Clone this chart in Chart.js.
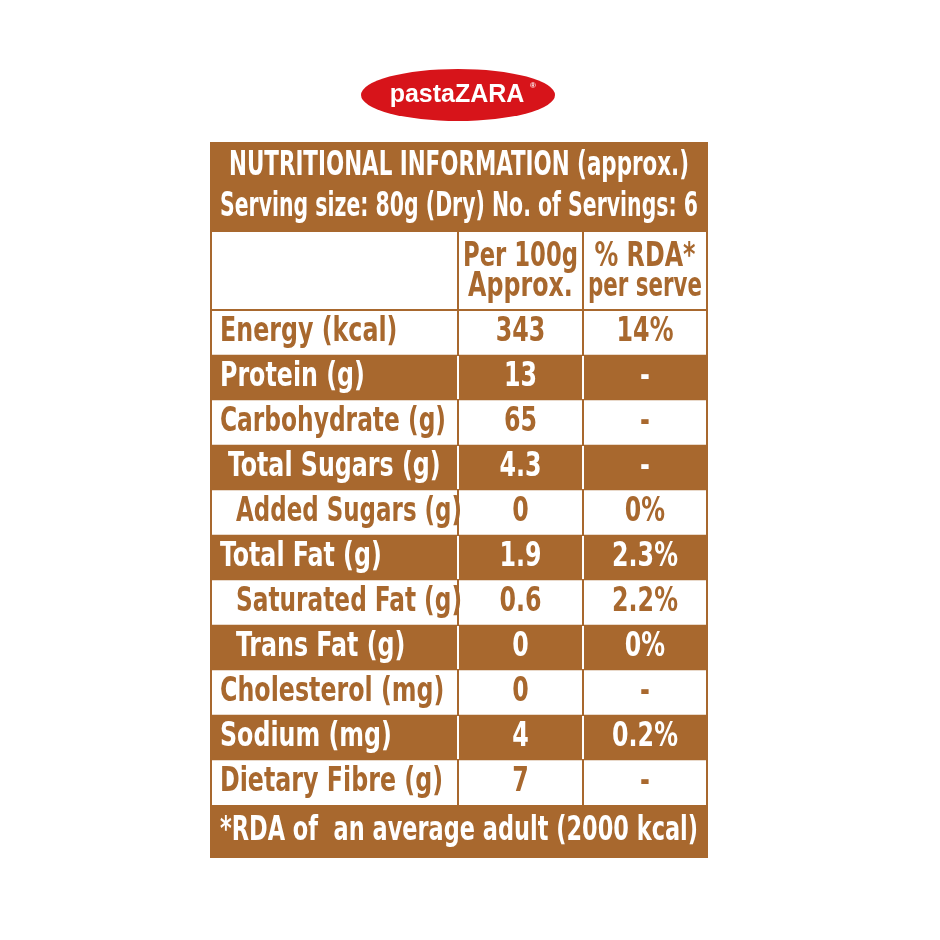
<!DOCTYPE html>
<html>
<head>
<meta charset="utf-8">
<script src="https://cdn.jsdelivr.net/npm/chart.js@4.4.1/dist/chart.umd.min.js"></script>
<style>
  html, body { margin: 0; padding: 0; background: #fff; }
  canvas { display: block; }
</style>
</head>
<body>
<canvas id="table" width="940" height="940"></canvas>
<script>
// Table data
const nutrients = ['Energy (kcal)', 'Protein (g)', 'Carbohydrate (g)', ' Total Sugars (g)', '  Added Sugars (g)',
    'Total Fat (g)', '  Saturated Fat (g)', '  Trans Fat (g)', 'Cholesterol (mg)', 'Sodium (mg)', 'Dietary Fibre (g)'];
const per100g = ['343', '13', '65', '4.3', '0', '1.9', '0.6', '0', '0', '4', '7'];
const rdaPerServe = ['14%', '-', '-', '-', '0%', '2.3%', '2.2%', '0%', '-', '0.2%', '-'];
const shadedRows = [false, true, false, true, false, true, false, true, false, true, false];
const columnEdges = [0, 247, 372, 496];
const titleLines = ['NUTRITIONAL INFORMATION (approx.)', 'Serving size: 80g (Dry) No. of Servings: 6'];
const colHeaders = [['Per 100g', 'Approx.'], ['% RDA*', 'per serve']];
const footnote = '*RDA of  an average adult (2000 kcal)';

const BROWN = '#a8682e';
const FONT = 'bold 33px "DejaVu Sans Condensed", sans-serif';
const SQUEEZE = 0.8;

function fitText(ctx, text, x, y, maxW) {
    const w = ctx.measureText(text).width;
    let s = SQUEEZE;
    if (w * s > maxW) s = maxW / w;
    ctx.save();
    ctx.translate(x, y);
    ctx.scale(s, 1);
    ctx.fillText(text, 0, 0);
    ctx.restore();
}

const tablePlugin = {
    id: 'tablePlugin',
    afterDatasetsDraw(chart) {
        const ctx = chart.ctx;
        const xs = chart.scales.x, ys = chart.scales.y;
        const left = xs.getPixelForValue(0), right = xs.getPixelForValue(496);
        const half = (ys.getPixelForValue(1) - ys.getPixelForValue(0)) / 2;
        const rowsTop = ys.getPixelForValue(0) - half;
        const rowsBottom = ys.getPixelForValue(nutrients.length - 1) + half;
        const cx = columnEdges.map(v => xs.getPixelForValue(v));
        const titleTop = 143, headTop = 232, footBottom = 857;

        ctx.save();
        // title and footer blocks
        ctx.fillStyle = BROWN;
        ctx.fillRect(left, titleTop, right - left, headTop - titleTop);
        ctx.fillRect(left, rowsBottom, right - left, footBottom - rowsBottom);

        // grid lines
        ctx.strokeStyle = BROWN;
        ctx.lineWidth = 2;
        ctx.strokeRect(left, titleTop, right - left, footBottom - titleTop);
        ctx.beginPath();
        ctx.moveTo(left, rowsTop); ctx.lineTo(right, rowsTop);
        for (let c = 1; c <= 2; c++) {
            ctx.moveTo(cx[c], headTop); ctx.lineTo(cx[c], rowsBottom);
        }
        ctx.stroke();
        // white lines inside shaded rows
        nutrients.forEach((n, i) => {
            if (!shadedRows[i]) return;
            const y = ys.getPixelForValue(i);
            ctx.strokeStyle = '#ffffff';
            ctx.beginPath();
            for (let c = 1; c <= 2; c++) {
                ctx.moveTo(cx[c], y - half + 1); ctx.lineTo(cx[c], y + half - 1);
            }
            ctx.stroke();
        });

        ctx.font = FONT;
        ctx.textBaseline = 'middle';
        ctx.textAlign = 'center';

        // title and footnote
        ctx.fillStyle = '#ffffff';
        fitText(ctx, titleLines[0], (left + right) / 2, 166, 460);
        fitText(ctx, titleLines[1], (left + right) / 2, 207, 478);
        fitText(ctx, footnote, (left + right) / 2, rowsBottom + 26, 478);

        // column headers
        ctx.fillStyle = BROWN;
        colHeaders.forEach((lines, c) => {
            const mid = (cx[c + 1] + cx[c + 2]) / 2;
            fitText(ctx, lines[0], mid, 257, cx[c + 2] - cx[c + 1] - 10);
            fitText(ctx, lines[1], mid, 287, cx[c + 2] - cx[c + 1] - 10);
        });

        // rows
        nutrients.forEach((n, i) => {
            const y = ys.getPixelForValue(i);
            ctx.fillStyle = shadedRows[i] ? '#ffffff' : BROWN;
            ctx.textAlign = 'left';
            const indent = n.length - n.trimStart().length;
            fitText(ctx, n.trim(), cx[0] + 9 + indent * 8, y, 226);
            ctx.textAlign = 'center';
            fitText(ctx, per100g[i], (cx[1] + cx[2]) / 2, y, 110);
            fitText(ctx, rdaPerServe[i], (cx[2] + cx[3]) / 2, y, 110);
        });

        // logo
        ctx.fillStyle = '#d7141a';
        ctx.beginPath();
        ctx.ellipse(458, 95, 97, 26, 0, 0, Math.PI * 2);
        ctx.fill();
        ctx.fillStyle = '#ffffff';
        ctx.textAlign = 'center';
        ctx.font = 'bold 25px "Liberation Sans", Arial, sans-serif';
        ctx.fillText('pastaZARA', 457, 95);
        ctx.font = 'bold 8px "Liberation Sans", sans-serif';
        ctx.fillText('®', 533, 86);
        ctx.restore();
    }
};

new Chart(document.getElementById('table'), {
    type: 'bar',
    data: {
        labels: nutrients,
        datasets: [{
            data: shadedRows.map(s => s ? [0, 496] : null),
            backgroundColor: BROWN,
            borderWidth: 0,
            barPercentage: 1,
            categoryPercentage: 1
        }]
    },
    options: {
        indexAxis: 'y',
        responsive: false,
        animation: false,
        layout: { padding: { left: 211, right: 233, top: 310, bottom: 135 } },
        plugins: { legend: { display: false }, tooltip: { enabled: false } },
        scales: {
            x: { type: 'linear', min: 0, max: 496, display: false },
            y: { type: 'category', display: false, offset: true }
        }
    },
    plugins: [tablePlugin]
});
</script>
</body>
</html>
